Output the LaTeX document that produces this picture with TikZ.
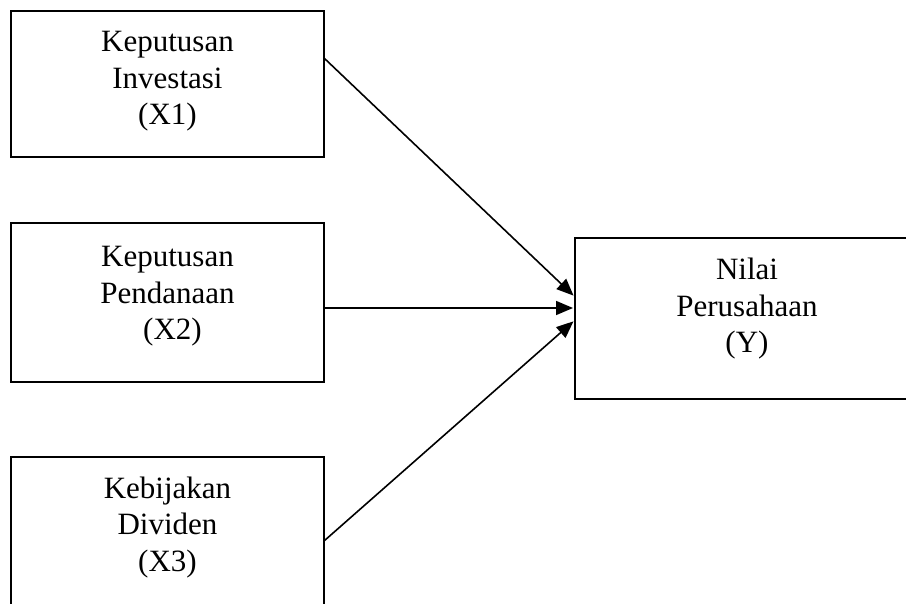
\documentclass[tikz,border=0pt]{standalone}
\usepackage{fontspec}
\setmainfont{Liberation Serif}
\usetikzlibrary{arrows.meta}
\begin{document}
\begin{tikzpicture}[x=1pt,y=-1pt,
  boxnode/.style={draw,line width=1.8pt,inner sep=0pt,outer sep=0pt,rectangle},
  txt/.style={font=\fontsize{31}{36.5}\selectfont,text width=330pt,align=center,anchor=base,inner sep=0pt},
  link/.style={line width=1.6pt,-{Triangle[length=17pt,width=14pt]},shorten >=2pt}]
\useasboundingbox (0,0) rectangle (906,604);
\clip (0,0) rectangle (906,604);
\node[boxnode,minimum width=313pt,minimum height=146pt] (x1) at (167.5,84) {};
\node[boxnode,minimum width=313pt,minimum height=159pt] (x2) at (167.5,302.5) {};
\node[boxnode,minimum width=313pt,minimum height=166pt] (x3) at (167.5,540) {};
\node[boxnode,minimum width=344pt,minimum height=161pt] (y) at (747,318.5) {};
\node[txt] (t1) at (167.5,52) {Keputusan\\Investasi\\(X1)};
\node[txt] (t2) at (167.5,267) {Keputusan\\Pendanaan\\\hspace*{10pt}(X2)};
\node[txt] (t3) at (167.5,498) {Kebijakan\\Dividen\\(X3)};
\node[txt] (ty) at (747,280) {Nilai\\Perusahaan\\(Y)};
\coordinate (s1) at (x1.east |- 0,58);
\coordinate (s2) at (x2.east |- 0,308);
\coordinate (s3) at (x3.east |- 0,541);
\coordinate (e1) at (y.west |- 0,297);
\coordinate (e2) at (y.west |- 0,308);
\coordinate (e3) at (y.west |- 0,320);
\draw[link] (s1) -- (e1);
\draw[link] (s2) -- (e2);
\draw[link] (s3) -- (e3);
\end{tikzpicture}
\end{document}
